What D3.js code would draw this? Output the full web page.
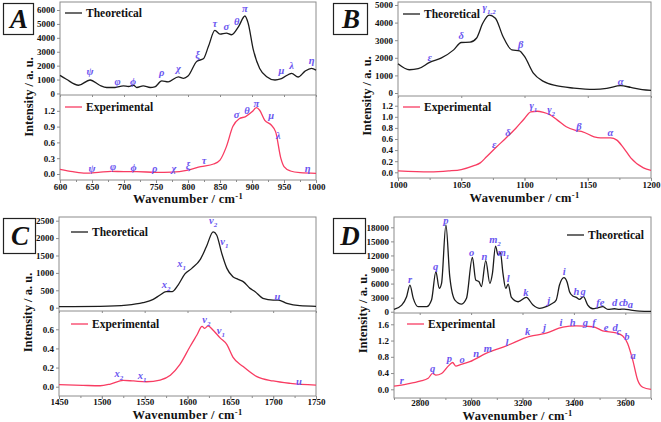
<!DOCTYPE html>
<html><head><meta charset="utf-8">
<script src="https://cdn.jsdelivr.net/npm/d3@7"></script>
<style>
body{margin:0;background:#fff;}
svg{display:block;}
svg text{font-family:"Times New Roman","Liberation Serif",Tinos,Times,serif;}
</style></head>
<body>
<svg id="c" width="661" height="422"></svg>
<script>
// ---------- DATA ----------
const A_theo = [[600,1300],[610,1020],[629,590],[647,970],[662,590],[673,430],[686,430],[699,545],[707,500],[715,590],[720,430],[730,545],[741,430],[748,470],[759,900],[769,830],[785,1200],[793,1090],[800,1250],[814,2320],[824,2490],[832,3390],[842,4530],[850,4270],[860,4340],[868,4220],[879,4810],[889,5570],[894,5050],[902,3150],[912,1800],[923,1210],[936,970],[946,1070],[962,1450],[972,1185],[983,1610],[993,1800],[1000,1680]];
const A_exp = [[600,0.09],[620,0.045],[640,0.015],[660,0.03],[680,0.05],[700,0.045],[720,0.045],[750,0.03],[775,0.035],[800,0.075],[820,0.14],[840,0.19],[850,0.265],[860,0.52],[870,0.9],[880,1.05],[890,1.09],[900,1.18],[907,1.26],[912,1.21],[920,1.02],[930,0.93],[937,0.8],[945,0.3],[950,0.14],[960,0.057],[975,0.025],[1000,0.013]];
const A_theoLabels = [["ψ","",647,1550],["φ","",690,850],["ϕ","",714,850],["ρ","",759,1450],["χ","",785,1750],["ξ","",815,2750],["τ","",842,5000],["σ","",860,4800],["θ","",876,5150],["π","",889,6100],["μ","",946,1650],["λ","",962,1950],["η","",993,2300]];
const A_expLabels = [["ψ","",650,0.1],["φ","",683,0.13],["ϕ","",715,0.12],["ρ","",748,0.1],["χ","",778,0.1],["ξ","",800,0.16],["τ","",825,0.25],["σ","",876,1.12],["θ","",892,1.2],["π","",907,1.33],["μ","",930,1.1],["λ","",941,0.73],["η","",987,0.1]];

const B_theo = [[1000,1660],[1009,1320],[1016,1380],[1025,1740],[1034,1980],[1044,2450],[1050,2870],[1057,2890],[1062,3110],[1067,3960],[1072,4430],[1077,4250],[1083,3210],[1090,2450],[1096,2400],[1100,2075],[1107,1130],[1115,660],[1125,415],[1139,280],[1155,210],[1165,260],[1176,415],[1184,320],[1193,190],[1200,150]];
const B_exp = [[1000,0.024],[1025,0.006],[1040,0.024],[1050,0.05],[1060,0.12],[1065,0.17],[1070,0.28],[1078,0.46],[1085,0.61],[1093,0.79],[1100,0.97],[1105,1.09],[1110,1.1],[1115,1.08],[1120,1.04],[1126,0.94],[1133,0.82],[1141,0.75],[1146,0.73],[1155,0.64],[1160,0.62],[1168,0.62],[1173,0.58],[1178,0.45],[1184,0.26],[1194,0.08],[1200,0.036]];
const B_theoLabels = [["ε","",1025,2000],["δ","",1050,3250],["γ","1,2",1072,4850],["β","",1097,2750],["α","",1176,650]];
const B_expLabels = [["ε","",1076,0.5],["δ","",1087,0.7],["γ","1",1107,1.2],["γ","2",1121,1.12],["β","",1143,0.82],["α","",1168,0.7]];

const C_theo = [[1450,30],[1498,40],[1529,75],[1548,145],[1560,240],[1568,365],[1575,460],[1582,460],[1589,650],[1597,970],[1605,1130],[1615,1390],[1622,1750],[1630,2180],[1634,2090],[1640,1560],[1646,1130],[1653,890],[1659,815],[1665,750],[1673,555],[1679,460],[1688,270],[1700,220],[1706,220],[1716,125],[1731,57],[1750,40]];
const C_exp = [[1450,0.021],[1478,0.014],[1498,0.01],[1510,0.028],[1525,0.066],[1537,0.06],[1552,0.052],[1568,0.07],[1580,0.12],[1591,0.23],[1603,0.42],[1611,0.54],[1617,0.63],[1620,0.61],[1624,0.635],[1630,0.59],[1638,0.51],[1646,0.44],[1653,0.31],[1665,0.21],[1681,0.105],[1700,0.06],[1720,0.035],[1750,0.017]];
const C_theoLabels = [["x","2",1575,650],["x","1",1593,1250],["v","2",1630,2480],["v","1",1643,1900],["u","",1705,320]];
const C_expLabels = [["x","2",1520,0.13],["x","1",1547,0.11],["v","2",1622,0.7],["v","1",1639,0.58],["u","",1730,0.05]];

const D_theo = [[2700,500],[2730,1420],[2749,3200],[2762,5690],[2775,2850],[2794,1070],[2827,1070],[2846,2490],[2863,8540],[2876,4980],[2885,6050],[2902,18500],[2917,7470],[2937,2490],[2963,1640],[2982,2850],[3005,11600],[3018,6760],[3031,6400],[3040,5340],[3057,10900],[3073,6050],[3083,8180],[3095,14000],[3105,12100],[3114,12600],[3124,8180],[3135,4980],[3144,5900],[3157,3060],[3183,2130],[3215,3060],[3241,1420],[3267,710],[3292,1070],[3312,1640],[3331,2490],[3344,5690],[3361,7260],[3373,6400],[3383,4270],[3396,3340],[3409,3060],[3422,2630],[3437,3200],[3454,1420],[3474,640],[3493,850],[3512,1070],[3532,500],[3558,640],[3577,500],[3596,570],[3622,355],[3655,140],[3700,70]];
const D_exp = [[2700,0.08],[2749,0.13],[2801,0.2],[2833,0.27],[2850,0.39],[2863,0.35],[2885,0.39],[2911,0.57],[2928,0.66],[2941,0.57],[2956,0.6],[2995,0.68],[3060,0.89],[3137,1.07],[3228,1.3],[3292,1.38],[3357,1.53],[3409,1.56],[3474,1.54],[3512,1.44],[3564,1.39],[3590,1.31],[3609,1.13],[3629,0.72],[3648,0.23],[3668,0.05],[3700,0.0]];
const D_theoLabels = [["r","",2762,6800],["q","",2862,9600],["p","",2902,19300],["o","",3002,12500],["n","",3052,11700],["m","2",3093,15300],["m","1",3126,12600],["l","",3144,7000],["k","",3213,3900],["j","",3302,2300],["i","",3362,8400],["h","",3410,4200],["g","",3436,4200],["f","",3494,1800],["e","",3510,1800],["d","",3558,1800],["c","",3585,1800],["b","",3600,1800],["a","",3620,1500]];
const D_expLabels = [["r","",2730,0.2],["q","",2850,0.5],["p","",2915,0.75],["o","",2965,0.72],["n","",3020,0.88],["m","",3065,0.98],["l","",3140,1.15],["k","",3220,1.4],["j","",3285,1.52],["i","",3350,1.63],["h","",3395,1.63],["g","",3445,1.63],["f","",3478,1.63],["e","",3525,1.5],["d","",3560,1.5],["c","",3575,1.42],["b","",3606,1.28],["a","",3630,0.82]];

const A_xTicks=[600,650,700,750,800,850,900,950,1000], A_yTop=[0,1000,2000,3000,4000,5000,6000], A_yBot=[0,0.3,0.6,0.9,1.2];
const B_xTicks=[1000,1050,1100,1150,1200], B_yTop=[0,1000,2000,3000,4000,5000], B_yBot=[0,0.2,0.4,0.6,0.8,1.0,1.2];
const C_xTicks=[1450,1500,1550,1600,1650,1700,1750], C_yTop=[0,500,1000,1500,2000,2500], C_yBot=[0,0.2,0.4,0.6];
const D_xTicks=[2800,3000,3200,3400,3600], D_yTop=[0,3000,6000,9000,12000,15000,18000], D_yBot=[0,0.4,0.8,1.2,1.6];

// ---------- LAYOUT ----------
const panels = [
 {id:"A",x0:60,x1:316,top:2,mid:95,bot:180,xDom:[600,1000],tDom:[-110,6575],bDom:[-0.114,1.5],xMinor:25,
  theo:A_theo,exp:A_exp,tl:A_theoLabels,el:A_expLabels,xt:A_xTicks,yt:A_yTop,yb:A_yBot,
  box:[3,3,30,31],legT:[5,11],legE:[5,12],titleY:203,titleDx:0,tickY:4},
 {id:"B",x0:398,x1:651,top:2,mid:96,bot:178,xDom:[1000,1200],tDom:[-170,5170],bDom:[-0.103,1.375],xMinor:25,
  theo:B_theo,exp:B_exp,tl:B_theoLabels,el:B_expLabels,xt:B_xTicks,yt:B_yTop,yb:B_yBot,
  box:[333,3,34,31],legT:[5,12],legE:[5,11],titleY:202,titleDx:0,tickY:4},
 {id:"C",x0:59,x1:316,top:217,mid:311,bot:396,xDom:[1450,1750],tDom:[-95,2606],bDom:[-0.097,0.791],xMinor:25,
  theo:C_theo,exp:C_exp,tl:C_theoLabels,el:C_expLabels,xt:C_xTicks,yt:C_yTop,yb:C_yBot,
  box:[3,218,32,35],legT:[12,15],legE:[12,13],titleY:419,titleDx:0,tickY:3},
 {id:"D",x0:394,x1:651,top:217,mid:313,bot:398,xDom:[2700,3700],tDom:[-270,20197],bDom:[-0.214,1.878],xMinor:100,
  theo:D_theo,exp:D_exp,tl:D_theoLabels,el:D_expLabels,xt:D_xTicks,yt:D_yTop,yb:D_yBot,
  box:[333,218,32,35],legT:[173,18],legE:[13,11],titleY:420,titleDx:-5,tickY:2}
];

const svg = d3.select("#c");
const BLACK="#1c1c1c", RED="#f83c62", LAB="#6a55f0", FRAME="#8c8c8c";
const FONT='"Times New Roman","Liberation Serif",Tinos,Times,serif';

panels.forEach(p=>{
  const g = svg.append("g").attr("font-family",FONT);
  const x = d3.scaleLinear().domain(p.xDom).range([p.x0,p.x1]);
  const yT = d3.scaleLinear().domain(p.tDom).range([p.mid,p.top]);
  const yB = d3.scaleLinear().domain(p.bDom).range([p.bot,p.mid]);

  // frames
  g.append("rect").attr("x",p.x0).attr("y",p.top).attr("width",p.x1-p.x0).attr("height",p.bot-p.top)
    .attr("fill","none").attr("stroke",FRAME).attr("stroke-width",1);
  g.append("line").attr("x1",p.x0).attr("x2",p.x1).attr("y1",p.mid).attr("y2",p.mid).attr("stroke",FRAME);

  // letter box
  g.append("rect").attr("x",p.box[0]+0.5).attr("y",p.box[1]+0.5).attr("width",p.box[2]).attr("height",p.box[3])
    .attr("fill","#fff").attr("stroke","#222").attr("stroke-width",1.2);
  g.append("text").attr("x",p.box[0]+p.box[2]/2+1).attr("y",p.box[1]+p.box[3]/2+9)
    .attr("text-anchor","middle").attr("font-size",27).attr("font-weight","bold").attr("font-style","italic")
    .attr("fill","#111").text(p.id);

  // y axes
  const yAxT = d3.axisLeft(yT).tickValues(p.yt).tickSize(3).tickFormat(d3.format("d"));
  const yAxB = d3.axisLeft(yB).tickValues(p.yb).tickSize(3).tickFormat(d3.format(".1f"));
  [yAxT, yAxB].forEach(ax=>{
    const a = g.append("g").attr("transform",`translate(${p.x0},0)`).call(ax).attr("font-family",FONT);
    a.select(".domain").remove();
    a.selectAll("line").attr("stroke",FRAME);
    a.selectAll("text").attr("font-size",9).attr("font-weight","bold").attr("fill","#111").attr("x",-5);
  });
  // x axis
  const minor = d3.range(p.xDom[0], p.xDom[1]+0.01, p.xMinor);
  const xm = g.append("g").attr("transform",`translate(0,${p.bot})`)
    .call(d3.axisBottom(x).tickValues(minor).tickSize(2).tickFormat(""));
  xm.select(".domain").remove(); xm.selectAll("line").attr("stroke",FRAME);
  const xa = g.append("g").attr("transform",`translate(0,${p.bot})`)
    .call(d3.axisBottom(x).tickValues(p.xt).tickSize(3).tickFormat(d3.format("d"))).attr("font-family",FONT);
  xa.select(".domain").remove(); xa.selectAll("line").attr("stroke",FRAME);
  xa.selectAll("text").attr("font-size",9).attr("font-weight","bold").attr("fill","#111").attr("y",p.tickY);
  // divider ticks
  const xd = g.append("g").attr("transform",`translate(0,${p.mid})`)
    .call(d3.axisBottom(x).tickValues(p.xt).tickSize(2).tickFormat(""));
  xd.select(".domain").remove(); xd.selectAll("line").attr("stroke",FRAME);

  // titles
  const xt = g.append("text").attr("x",(p.x0+p.x1)/2+p.titleDx).attr("y",p.titleY).attr("text-anchor","middle")
    .attr("font-size",12.5).attr("font-weight","bold").attr("fill","#111").attr("letter-spacing",0.3);
  xt.append("tspan").text("Wavenumber / cm");
  xt.append("tspan").attr("dy",-4).attr("font-size",8.5).text("-1");
  g.append("text").attr("transform",`translate(${p.x0-27},${(p.top+p.bot)/2+6}) rotate(-90)`)
    .attr("text-anchor","middle").attr("font-size",12.5).attr("font-weight","bold").attr("fill","#111")
    .text("Intensity / a. u.");

  // curves
  const lineT = d3.line().x(d=>x(d[0])).y(d=>yT(d[1])).curve(d3.curveMonotoneX);
  const lineE = d3.line().x(d=>x(d[0])).y(d=>yB(d[1])).curve(d3.curveMonotoneX);
  g.append("path").datum(p.theo).attr("d",lineT).attr("fill","none").attr("stroke",BLACK).attr("stroke-width",1.3);
  g.append("path").datum(p.exp).attr("d",lineE).attr("fill","none").attr("stroke",RED).attr("stroke-width",1.3);

  // legends
  const lx = p.x0+p.legT[0], ly = p.top+p.legT[1];
  g.append("line").attr("x1",lx).attr("x2",lx+17).attr("y1",ly).attr("y2",ly).attr("stroke",BLACK).attr("stroke-width",1.3);
  g.append("text").attr("x",lx+21).attr("y",ly+4).attr("font-size",11.5).attr("font-weight","bold").attr("fill","#111").text("Theoretical");
  const ex = p.x0+p.legE[0], ey = p.mid+p.legE[1];
  g.append("line").attr("x1",ex).attr("x2",ex+17).attr("y1",ey).attr("y2",ey).attr("stroke",RED).attr("stroke-width",1.3);
  g.append("text").attr("x",ex+21).attr("y",ey+4).attr("font-size",11.5).attr("font-weight","bold").attr("fill","#111").text("Experimental");

  // peak labels
  function labels(arr, ys){
    arr.forEach(([s,sub,wx,wy])=>{
      const t = g.append("text").attr("x",x(wx)).attr("y",ys(wy)+3).attr("text-anchor","middle")
        .attr("font-size",10.5).attr("font-style","italic").attr("font-weight","bold").attr("fill",LAB);
      t.append("tspan").text(s);
      if(sub) t.append("tspan").attr("dy",3).attr("font-size",7).text(sub);
    });
  }
  labels(p.tl, yT); labels(p.el, yB);
});
</script>
</body></html>
